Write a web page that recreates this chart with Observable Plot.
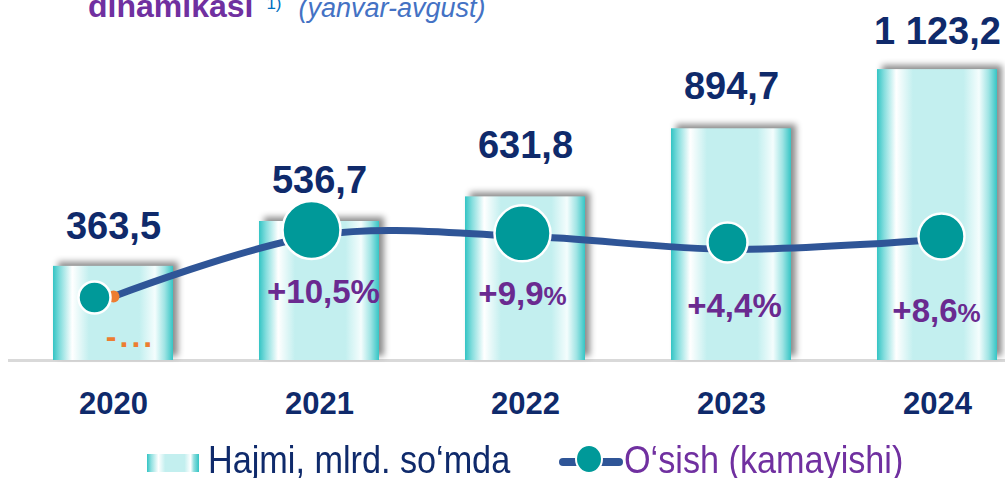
<!DOCTYPE html>
<html>
<head>
<meta charset="utf-8">
<script src="https://cdn.jsdelivr.net/npm/d3@7"></script>
<script src="https://cdn.jsdelivr.net/npm/@observablehq/plot@0.6"></script>
<style>
  html, body { margin: 0; padding: 0; background: #fff; }
  body { width: 1005px; height: 478px; overflow: hidden; position: relative;
         font-family: "Liberation Sans", Arial, sans-serif; }
  #chart { position: absolute; left: 0; top: 0; }
  #chart svg { display: block; }
  #title { position: absolute; left: 88px; top: -10px; font-size: 32px; line-height: 32px;
           white-space: nowrap; z-index: 2; }
  #title .main { color: #7030a0; font-weight: bold; }
  #title .sup { color: #0070c0; font-size: 17px; position: relative; top: -8px; margin-left: 13px; }
  #title .sub { color: #4472c4; font-style: italic; font-size: 27px; margin-left: 17px; }
  #legend { position: absolute; left: 0; top: 440px; width: 1005px; height: 38px; }
  #legend .sw { position: absolute; left: 147px; top: 14px; width: 52px; height: 18px;
     background: linear-gradient(to right, #33c4c4 0%, #8fe0e0 8%, #ffffff 22%, #c3efef 35%, #c3efef 72%, #ffffff 84%, #8fdede 90%, #33c4c4 100%); }
  #legend .lt { position: absolute; top: 1px; font-size: 38px; line-height: 38px; white-space: nowrap;
     transform: scaleX(0.9); transform-origin: left center; }
  #legend .lt1 { left: 208px; color: #0f2a6b; }
  #legend .lt2 { left: 624px; color: #7030a0; }
  #legend svg.ls { position: absolute; left: 558px; top: 4px; }
  g[aria-label="bar"] rect { filter: drop-shadow(5px -4px 3px rgba(0,0,0,0.45)); }
</style>
</head>
<body>
<div id="chart"></div>
<div id="title"><span class="main">dinamikasi</span><span class="sup">1)</span><span class="sub">(yanvar-avgust)</span></div>
<div id="legend">
  <div class="sw"></div>
  <span class="lt lt1">Hajmi, mlrd. so‘mda</span>
  <svg class="ls" width="66" height="30">
    <line x1="5" y1="18" x2="61" y2="18" stroke="#2f5597" stroke-width="8" stroke-linecap="round"></line>
    <ellipse cx="31" cy="15" rx="13" ry="14" fill="#009999" stroke="#fff" stroke-width="2"></ellipse>
  </svg>
  <span class="lt lt2">O‘sish (kamayishi)</span>
</div>
<script>
// ---- data ----
const years = ["2020", "2021", "2022", "2023", "2024"];
const volume = [363.5, 536.7, 631.8, 894.7, 1123.2];            // Hajmi, mlrd. so'mda
const growth = [-15.5, 10.5, 9.9, 4.4, 8.6];
const growthLabels = ["-...", "+10,5%", "+9,9%", "+4,4%", "+8,6%"];

// ---- styles / offsets ----
const navy = "#0f2a6b";
const purple = "#6a2a90";
const valueDy = {"2020": -27, "2021": -28, "2022": -39, "2023": -30, "2024": -26};
const bubbleStyle = {
  "2020": {dx: -19, dy: 1, r: 16},
  "2021": {dx: -8, dy: -5, r: 29},
  "2022": {dx: -3, dy: -3, r: 28},
  "2023": {dx: -4, dy: -7, r: 20},
  "2024": {dx: 4, dy: -3, r: 23}
};
const growthLabelStyle = {
  "2020": {dx: 17, dy: 50},
  "2021": {dx: 4, dy: 68},
  "2022": {dx: -3, dy: 69},
  "2023": {dx: 3, dy: 68},
  "2024": {dx: -1, dy: 83}
};
const smallPercent = ["2022", "2024"];

const rows = years.map((year, i) => ({year, volume: volume[i], growth: growth[i], glabel: growthLabels[i]}));

// hidden secondary axis: growth % -> primary value units
const g2v = d3.scaleLinear().domain([0, 10]).range([388.8, 480.3]);
const locale = d3.formatLocale({decimal: ",", thousands: " ", grouping: [3], currency: ["", ""]});
const fmt = locale.format(",.1f");

const gradStops = [
  [0, "#33c4c4"], [0.06, "#86dede"], [0.16, "#ffffff"], [0.30, "#c3efef"],
  [0.72, "#c3efef"], [0.85, "#f4fdfd"], [0.93, "#9fe4e4"], [1, "#36c5c5"]
];

const defsMark = () => {
  const g = d3.create("svg:g");
  const lg = g.append("defs").append("linearGradient")
    .attr("id", "barGrad").attr("x1", 0).attr("x2", 1).attr("y1", 0).attr("y2", 0);
  gradStops.forEach(([o, c]) => lg.append("stop").attr("offset", o).attr("stop-color", c));
  return g.node();
};

const marks = [
  defsMark,
  Plot.ruleY([0], {stroke: "#d9d9d9", strokeWidth: 3, insetLeft: -44, insetRight: -8}),
  Plot.barY(rows, {x: "year", y: "volume", fill: "url(#barGrad)", inset: 0}),
  ...rows.map(r => Plot.text([r], {
    x: "year", y: "volume", text: d => fmt(d.volume), dy: valueDy[r.year],
    lineAnchor: "bottom", fontSize: 38, fontWeight: "bold", fill: navy
  })),
  Plot.line(rows, {x: "year", y: d => g2v(d.growth), curve: "catmull-rom",
    stroke: "#2f5597", strokeWidth: 7}),
  Plot.dot(rows.slice(0, 1), {x: "year", y: d => g2v(d.growth), r: 6, fill: "#ed7d31"}),
  ...rows.map(r => Plot.dot([r], {
    x: "year", y: d => g2v(d.growth), r: bubbleStyle[r.year].r,
    dx: bubbleStyle[r.year].dx, dy: bubbleStyle[r.year].dy,
    fill: "#009999", stroke: "#fff", strokeWidth: 2.5
  })),
  Plot.text(rows.slice(0, 1), {
    x: "year", y: d => g2v(d.growth), text: "glabel",
    dx: growthLabelStyle["2020"].dx, dy: growthLabelStyle["2020"].dy,
    lineAnchor: "bottom", fontSize: 32, fontWeight: "bold", fill: "#ed7d31"
  }),
  ...rows.slice(1).map(r => Plot.text([r], {
    x: "year", y: d => g2v(d.growth), text: "glabel",
    dx: growthLabelStyle[r.year].dx, dy: growthLabelStyle[r.year].dy,
    lineAnchor: "bottom", fontSize: 33, fontWeight: "bold", fill: purple
  })),
  Plot.axisX({tickSize: 0, tickPadding: 31, fontSize: 31, fontWeight: "bold", color: navy, label: null})
];

const chart = Plot.plot({
  width: 1005,
  height: 440,
  marginLeft: 52,
  marginRight: 8,
  marginTop: 0,
  marginBottom: 80,
  x: {domain: years, paddingInner: 0.418, paddingOuter: 0, axis: null, label: null},
  y: {domain: [0, 1390], axis: null},
  style: {fontFamily: '"Liberation Sans", Arial, sans-serif', background: "transparent", overflow: "visible"},
  marks
});

// smaller % sign on some labels; spaced-out placeholder label
const smallTexts = rows.filter(r => smallPercent.includes(r.year)).map(r => r.glabel);
d3.select(chart).selectAll("text").each(function () {
  const t = this.textContent;
  const sel = d3.select(this);
  if (smallTexts.includes(t) && t.endsWith("%")) {
    sel.text(t.slice(0, -1));
    sel.append("tspan").attr("font-size", 26).text("%");
  } else if (t === growthLabels[0]) {
    sel.attr("letter-spacing", 3);
  }
});
d3.select(chart).selectAll('g[aria-label="x-axis tick label"] text').attr("font-weight", "bold");

document.getElementById("chart").appendChild(chart);
</script>
</body>
</html>
